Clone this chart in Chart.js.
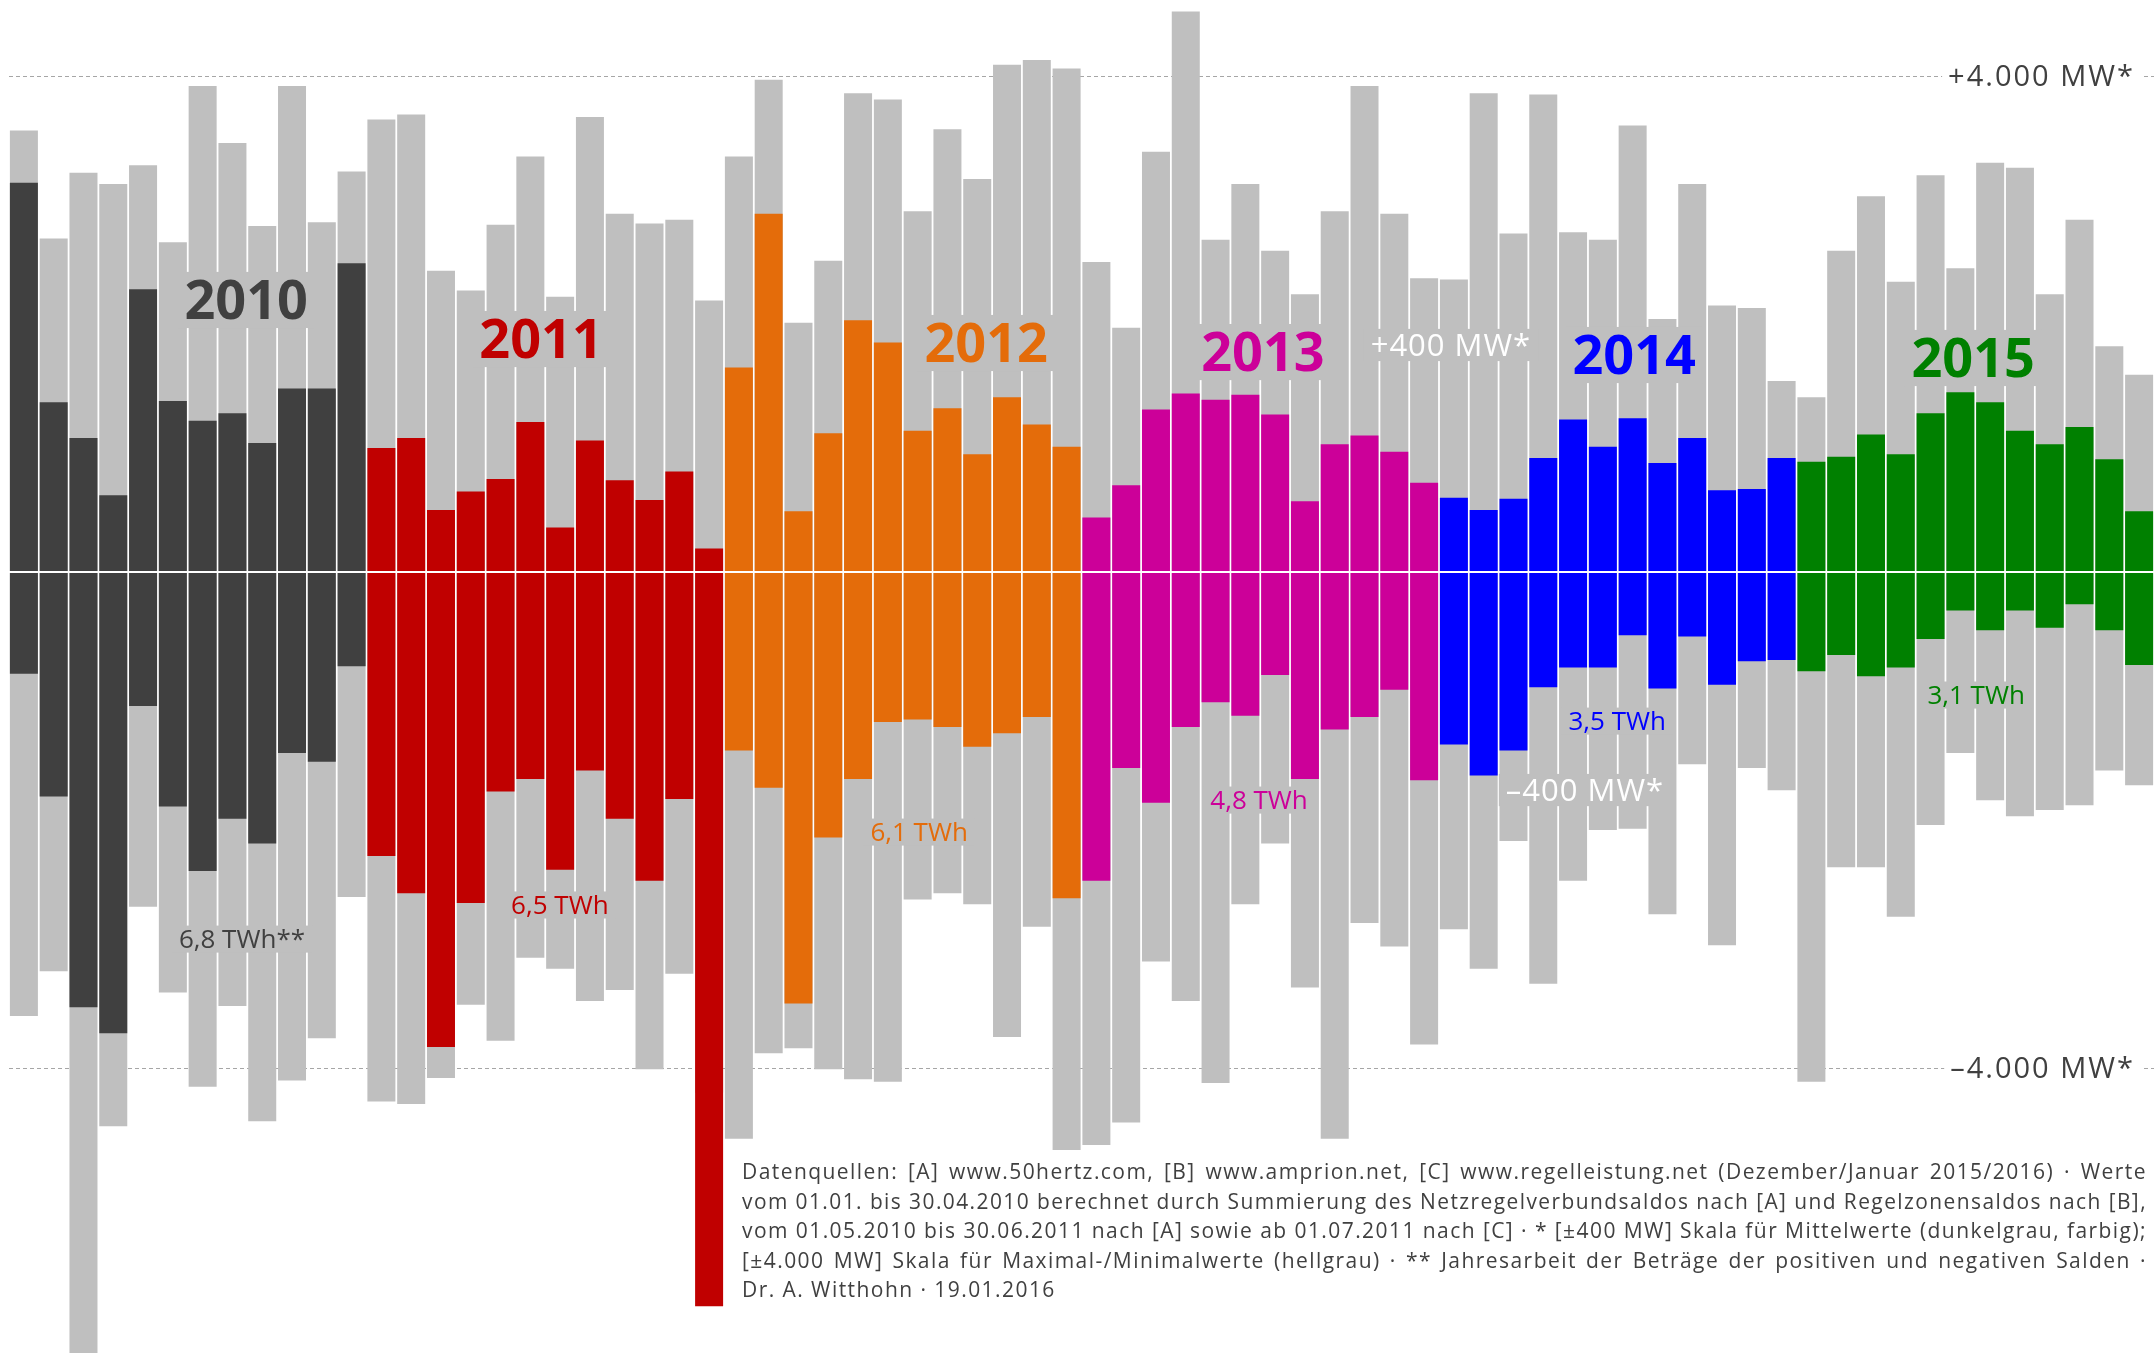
<!DOCTYPE html>
<html lang="de">
<head>
<meta charset="UTF-8">
<title>Regelzonensaldo Deutschland 2010–2015</title>
<script src="https://cdn.jsdelivr.net/npm/chart.js"></script>
<style>
  html, body { margin: 0; padding: 0; background: #fff; }
  #wrap { width: 2154px; height: 1353px; position: relative; }
</style>
</head>
<body>
<div id="wrap"><canvas id="saldoChart" width="2154" height="1353"></canvas></div>
<script>
// --- data ---
const years = ['2010', '2011', '2012', '2013', '2014', '2015'];
const months = ['Jan', 'Feb', 'Mär', 'Apr', 'Mai', 'Jun', 'Jul', 'Aug', 'Sep', 'Okt', 'Nov', 'Dez'];
const yearColors = ['#404040', '#c00000', '#e46c0a', '#cc0099', '#0000ff', '#008000'];
const yearTotals = ['6,8 TWh**', '6,5 TWh', '6,1 TWh', '4,8 TWh', '3,5 TWh', '3,1 TWh'];

// monthly maximum / minimum (MW, ±4.000 scale, light grey)
const maxValues = [
  3560, 2690, 3220, 3130, 3280, 2660, 3920, 3460, 2790, 3920, 2820, 3230,
  3650, 3690, 2430, 2270, 2800, 3350, 2220, 3670, 2890, 2810, 2840, 2190,
  3350, 3970, 2010, 2510, 3860, 3810, 2910, 3570, 3170, 4090, 4130, 4060,
  2500, 1970, 3390, 4520, 2680, 3130, 2590, 2240, 2910, 3920, 2890, 2370,
  2360, 3860, 2730, 3850, 2740, 2680, 3600, 2040, 3130, 2150, 2130, 1540,
  1410, 2590, 3030, 2340, 3200, 2450, 3300, 3260, 2240, 2840, 1820, 1590
];
const minValues = [
  -3580, -3220, -6450, -4470, -2700, -3390, -4150, -3500, -4430, -4100, -3760, -2620,
  -4270, -4290, -4080, -3490, -3780, -3110, -3200, -3460, -3370, -4010, -3240, -4200,
  -4570, -3880, -3840, -4010, -4090, -4110, -2640, -2590, -2680, -3750, -2860, -4660,
  -4620, -4440, -3140, -3460, -4120, -2680, -2190, -3350, -4570, -2830, -3020, -3810,
  -2880, -3200, -2170, -3320, -2490, -2080, -2070, -2760, -1550, -3010, -1580, -1760,
  -4110, -2380, -2380, -2780, -2040, -1460, -1840, -1970, -1920, -1880, -1600, -1720
];
// monthly mean of positive / negative saldo (MW, ±400 scale, coloured)
const meanPos = [
  314, 137, 108, 62, 228, 138, 122, 128, 104, 148, 148, 249,
  100, 108, 50, 65, 75, 121, 36, 106, 74, 58, 81, 19,
  165, 289, 49, 112, 203, 185, 114, 132, 95, 141, 119, 101,
  44, 70, 131, 144, 139, 143, 127, 57, 103, 110, 97, 72,
  60, 50, 59, 92, 123, 101, 124, 88, 108, 66, 67, 92,
  89, 93, 111, 95, 128, 145, 137, 114, 103, 117, 91, 49
];
const meanNeg = [
  -82, -181, -351, -372, -108, -189, -241, -199, -219, -146, -153, -76,
  -229, -259, -383, -267, -177, -167, -240, -160, -199, -249, -183, -592,
  -144, -174, -348, -214, -167, -121, -119, -125, -141, -130, -117, -263,
  -249, -158, -186, -125, -105, -116, -83, -167, -127, -117, -95, -168,
  -139, -164, -144, -93, -77, -77, -51, -94, -52, -91, -72, -71,
  -80, -67, -84, -77, -54, -31, -47, -31, -45, -26, -47, -75
];
const rangeTicks = [4000, -4000];
const rangeTickLabels = ['+4.000 MW*', '\u20134.000 MW*'];
const meanTickLabels = ['+400 MW*', '\u2013400 MW*'];

const footnote = [
  'Datenquellen: [A] www.50hertz.com, [B] www.amprion.net, [C] www.regelleistung.net (Dezember/Januar 2015/2016) · Werte',
  'vom 01.01. bis 30.04.2010 berechnet durch Summierung des Netzregelverbundsaldos nach [A] und Regelzonensaldos nach [B],',
  'vom 01.05.2010 bis 30.06.2011 nach [A] sowie ab 01.07.2011 nach [C] · * [±400 MW] Skala für Mittelwerte (dunkelgrau, farbig);',
  '[±4.000 MW] Skala für Maximal-/Minimalwerte (hellgrau) · ** Jahresarbeit der Beträge der positiven und negativen Salden ·',
  'Dr. A. Witthohn · 19.01.2016'
];

// label anchors: [category index, value on the ±4.000 scale]
const yearLabelPos = [[7.46, 2194], [17.36, 1879], [32.3, 1847], [41.59, 1774], [54.05, 1750], [65.43, 1726]];
const totalLabelPos = [[7.32, -2960], [17.99, -2685], [30.05, -2097], [41.46, -1839], [53.48, -1202], [65.53, -992]];
const meanLabelPos = [[47.9, 1831], [52.4, -1758]];

const labels = [];
years.forEach(y => months.forEach(m => labels.push(m + ' ' + y)));
const barColors = labels.map((_, i) => yearColors[Math.floor(i / 12)]);

const FONT = '"Open Sans", "Noto Sans", sans-serif';
const GREY = '#bfbfbf';

function textAt(ctx, text, cx, cy, size, weight, color, box, spacing) {
    ctx.font = weight + ' ' + size + 'px ' + FONT;
    ctx.letterSpacing = (spacing || 0) + 'px';
    const w = ctx.measureText(text).width;
    if (box) {
        ctx.fillStyle = box;
        ctx.fillRect(cx - w / 2 - 7, cy - size * 0.52, w + 14, size * 1.04);
    }
    ctx.fillStyle = color;
    ctx.textAlign = 'center';
    ctx.textBaseline = 'alphabetic';
    ctx.fillText(text, cx, cy + size * 0.357);
    ctx.letterSpacing = '0px';
}

function justify(ctx, text, x, y, width, last) {
    const words = text.split(' ');
    const widths = words.map(w => ctx.measureText(w).width);
    const total = widths.reduce((a, b) => a + b, 0);
    const space = ctx.measureText(' ').width;
    let gap = space, sx = 1;
    if (!last) {
        gap = (width - total) / (words.length - 1);
        if (gap < space) { sx = width / (total + space * (words.length - 1)); gap = space; }
    }
    ctx.save();
    ctx.translate(x, y);
    ctx.scale(sx, 1);
    let px = 0;
    words.forEach((w, i) => { ctx.fillText(w, px, 0); px += widths[i] + gap; });
    ctx.restore();
}

const decor = {
    id: 'decor',
    beforeDatasetsDraw(chart) {
        const ctx = chart.ctx, yR = chart.scales.yRange;
        ctx.save();
        ctx.strokeStyle = '#a6a6a6';
        ctx.lineWidth = 1;
        ctx.setLineDash([4, 3]);
        rangeTicks.forEach(v => {
            const py = Math.round(yR.getPixelForValue(v)) + 0.5;
            ctx.beginPath();
            ctx.moveTo(9, py);
            ctx.lineTo(chart.width, py);
            ctx.stroke();
        });
        ctx.setLineDash([]);
        ctx.font = '29px ' + FONT;
        ctx.letterSpacing = '2px';
        rangeTicks.forEach((v, i) => {
            const py = yR.getPixelForValue(v);
            const w = ctx.measureText(rangeTickLabels[i]).width;
            ctx.fillStyle = '#fff';
            ctx.fillRect(2133 - w - 4, py - 16, w + 14, 32);
            ctx.fillStyle = '#404040';
            ctx.textAlign = 'right';
            ctx.fillText(rangeTickLabels[i], 2135, py + 29 * 0.357);
        });
        ctx.letterSpacing = '0px';
        ctx.restore();
    },
    afterDatasetDraw(chart, args) {
        if (args.index !== 1) return; // after the grey range bars
        const ctx = chart.ctx, x = chart.scales.x, yR = chart.scales.yRange;
        ctx.save();
        years.forEach((yr, i) => {
            const p = yearLabelPos[i], q = totalLabelPos[i];
            textAt(ctx, yr, x.getPixelForValue(p[0]), yR.getPixelForValue(p[1]), 54, 'bold', yearColors[i], GREY, 0);
            textAt(ctx, yearTotals[i], x.getPixelForValue(q[0]), yR.getPixelForValue(q[1]), 26, 'normal', yearColors[i], GREY, 0);
        });
        meanLabelPos.forEach((p, i) => {
            textAt(ctx, meanTickLabels[i], x.getPixelForValue(p[0]), yR.getPixelForValue(p[1]), 31, 'normal', '#fff', GREY, 1);
        });
        ctx.restore();
    },
    afterDatasetsDraw(chart) {
        const ctx = chart.ctx, yM = chart.scales.yMean;
        ctx.save();
        const zy = yM.getPixelForValue(0);
        ctx.strokeStyle = '#fff';
        ctx.lineWidth = 2;
        ctx.beginPath();
        ctx.moveTo(chart.chartArea.left, zy);
        ctx.lineTo(chart.chartArea.right, zy);
        ctx.stroke();

        // footnote: letter spacing chosen so the third line fills the block naturally
        ctx.font = '21px ' + FONT;
        ctx.letterSpacing = '0px';
        const ref = footnote[2];
        const natural = ctx.measureText(ref).width;
        const ls = Math.max(0, (1405 - natural) / ref.length);
        ctx.letterSpacing = ls.toFixed(2) + 'px';
        ctx.fillStyle = '#404040';
        ctx.textAlign = 'left';
        ctx.textBaseline = 'alphabetic';
        footnote.forEach((line, i) => {
            justify(ctx, line, 742, 1179 + i * 29.5, 1405, i === footnote.length - 1);
        });
        ctx.letterSpacing = '0px';
        ctx.restore();
    }
};

new Chart(document.getElementById('saldoChart'), {
    type: 'bar',
    data: {
        labels: labels,
        datasets: [
            {
                label: 'Mittelwerte',
                data: meanNeg.map((v, i) => [v, meanPos[i]]),
                backgroundColor: barColors,
                yAxisID: 'yMean',
                order: 1
            },
            {
                label: 'Maximal-/Minimalwerte',
                data: minValues.map((v, i) => [v, maxValues[i]]),
                backgroundColor: GREY,
                yAxisID: 'yRange',
                order: 2
            }
        ]
    },
    options: {
        responsive: false,
        animation: false,
        layout: { padding: { left: 9, right: 0, top: 0, bottom: 0 } },
        datasets: { bar: { grouped: false, barPercentage: 0.94, categoryPercentage: 1, borderWidth: 0 } },
        plugins: { legend: { display: false }, tooltip: { enabled: false } },
        scales: {
            x: { display: false },
            yRange: { type: 'linear', axis: 'y', display: false, min: -6298, max: 4613 },
            yMean: { type: 'linear', axis: 'y', display: false, min: -629.8, max: 461.3 }
        }
    },
    plugins: [decor]
});
</script>
</body>
</html>
